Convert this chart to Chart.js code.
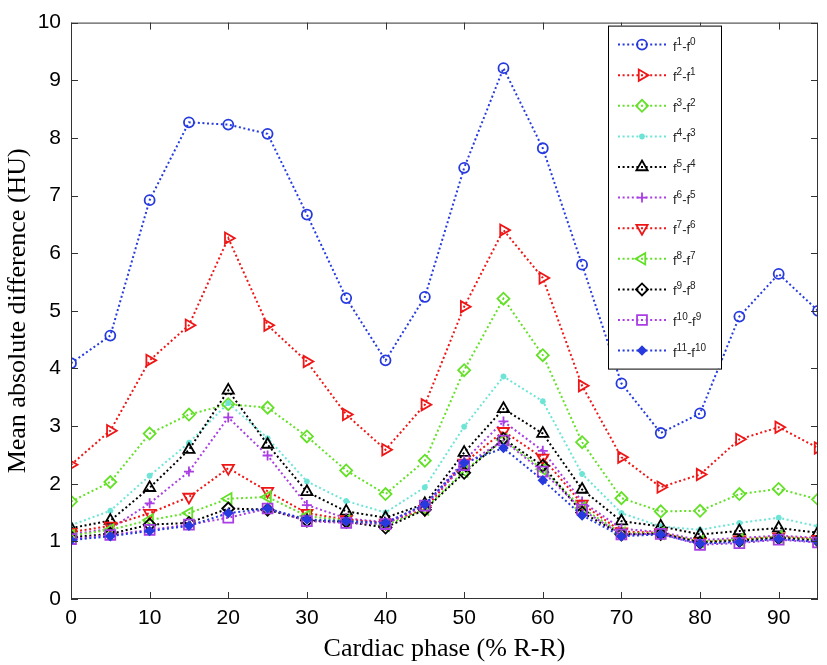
<!DOCTYPE html>
<html>
<head>
<meta charset="utf-8">
<script src="https://cdn.jsdelivr.net/npm/chart.js@4.4.1/dist/chart.umd.min.js"></script>
<style>
html,body{margin:0;padding:0;background:#fff;}
#wrap{width:827px;height:665px;}
</style>
</head>
<body>
<div id="wrap"><canvas id="c" width="827" height="665"></canvas></div>
<script>
// ---- data ----
const phases = [0,5,10,15,20,25,30,35,40,45,50,55,60,65,70,75,80,85,90,95];
const xTickValues = [0,10,20,30,40,50,60,70,80,90];
const yTickValues = [0,1,2,3,4,5,6,7,8,9,10];
const seriesLabels = ['f¹-f⁰','f²-f¹','f³-f²','f⁴-f³','f⁵-f⁴','f⁶-f⁵','f⁷-f⁶','f⁸-f⁷','f⁹-f⁸','f¹⁰-f⁹','f¹¹-f¹⁰'];

const f1_f0   = [4.09,4.57,6.92,8.27,8.23,8.07,6.67,5.22,4.14,5.24,7.48,9.21,7.82,5.80,3.74,2.88,3.22,4.90,5.64,5.00];
const f2_f1   = [2.33,2.92,4.14,4.75,6.26,4.75,4.12,3.20,2.59,3.37,5.07,6.40,5.57,3.70,2.46,1.94,2.16,2.77,2.98,2.62];
const f3_f2   = [1.69,2.03,2.87,3.20,3.38,3.32,2.82,2.23,1.82,2.40,3.97,5.21,4.23,2.72,1.75,1.52,1.53,1.82,1.91,1.73];
const f4_f3   = [1.28,1.53,2.14,2.71,3.40,2.79,2.04,1.70,1.50,1.94,2.99,3.86,3.43,2.17,1.49,1.26,1.20,1.32,1.41,1.26];
const f5_f4   = [1.23,1.36,1.93,2.59,3.62,2.68,1.86,1.52,1.41,1.65,2.54,3.30,2.87,1.90,1.35,1.26,1.12,1.18,1.23,1.15];
const f6_f5   = [1.12,1.22,1.66,2.21,3.15,2.49,1.63,1.40,1.33,1.62,2.40,3.08,2.57,1.69,1.22,1.16,1.02,1.06,1.10,1.06];
const f7_f6   = [1.16,1.27,1.49,1.77,2.27,1.87,1.49,1.38,1.32,1.56,2.36,2.91,2.45,1.65,1.17,1.15,0.99,1.03,1.08,1.04];
const f8_f7   = [1.10,1.20,1.37,1.49,1.74,1.77,1.44,1.36,1.28,1.56,2.22,2.76,2.25,1.58,1.14,1.14,1.00,1.03,1.08,1.03];
const f9_f8   = [1.07,1.13,1.29,1.32,1.57,1.55,1.36,1.34,1.24,1.55,2.19,2.78,2.31,1.50,1.12,1.13,0.98,1.01,1.06,1.01];
const f10_f9  = [1.04,1.11,1.20,1.29,1.41,1.57,1.35,1.32,1.30,1.62,2.32,2.75,2.21,1.55,1.12,1.13,0.94,0.97,1.03,0.98];
const f11_f10 = [1.02,1.09,1.18,1.27,1.49,1.57,1.38,1.35,1.32,1.64,2.36,2.62,2.06,1.45,1.09,1.12,0.96,0.99,1.04,0.99];

const seriesValues = [f1_f0,f2_f1,f3_f2,f4_f3,f5_f4,f6_f5,f7_f6,f8_f7,f9_f8,f10_f9,f11_f10];

// ---- styles ----
const BLUE='rgb(38,58,222)', RED='rgb(238,22,22)', GREEN='rgb(100,224,40)', CYAN='rgb(110,228,215)', BLACK='rgb(0,0,0)', PURPLE='rgb(168,62,228)';
const styles = [
  {c:BLUE,   ps:'circle',   r:5,   rot:0,   fill:false},
  {c:RED,    ps:'triangle', r:6.5, rot:90,  fill:false},
  {c:GREEN,  ps:'rectRot',  r:6,   rot:0,   fill:false},
  {c:CYAN,   ps:'star',     r:3,   rot:0,   fill:false},
  {c:BLACK,  ps:'triangle', r:6.5, rot:0,   fill:false},
  {c:PURPLE, ps:'cross',    r:5,   rot:0,   fill:false},
  {c:RED,    ps:'triangle', r:6.5, rot:180, fill:false},
  {c:GREEN,  ps:'triangle', r:6.5, rot:270, fill:false},
  {c:BLACK,  ps:'rectRot',  r:6,   rot:0,   fill:false},
  {c:PURPLE, ps:'rect',     r:7,   rot:0,   fill:false},
  {c:BLUE,   ps:'rectRot',  r:4,   rot:0,   fill:true}
];
const DASH=[2,2.6];

const datasets = seriesValues.map((vals,i)=>({
  label: seriesLabels[i],
  data: vals.map((v,j)=>({x:phases[j], y:v})),
  borderColor: styles[i].c,
  backgroundColor: styles[i].fill ? styles[i].c : 'rgba(0,0,0,0)',
  borderWidth: 2,
  borderDash: DASH,
  pointStyle: styles[i].ps,
  pointRadius: styles[i].r,
  pointRotation: styles[i].rot,
  pointBorderWidth: 1.8,
  pointBorderColor: styles[i].c,
  pointBackgroundColor: styles[i].fill ? styles[i].c : 'rgba(0,0,0,0)',
  tension: 0,
  fill: false,
  order: -i
}));

const SANS = "'Liberation Sans', Arial, Helvetica, sans-serif";
const SERIF = "'Liberation Serif', 'Times New Roman', serif";
const SUP = '⁰¹²³⁴⁵⁶⁷⁸⁹';

function drawSupLabel(ctx, text, x, y){
  // split into normal / superscript runs
  const runs=[]; 
  for(const ch of text){
    const k=SUP.indexOf(ch);
    const sup=k>=0; const c= sup? String(k): ch;
    if(runs.length && runs[runs.length-1].sup===sup) runs[runs.length-1].t+=c;
    else runs.push({sup, t:c});
  }
  let cx=x;
  ctx.textBaseline='alphabetic'; ctx.textAlign='left';
  runs.forEach(r=>{
    ctx.font=(r.sup? "10px ":"13px ")+SANS;
    ctx.fillText(r.t, cx, r.sup? y-6 : y);
    cx+=ctx.measureText(r.t).width;
  });
}

// frame + inward ticks + legend
const decor = {
  id:'decor',
  afterDatasetsDraw(chart){
    const {ctx, chartArea:a, scales:{x,y}} = chart;
    ctx.save();
    ctx.strokeStyle='#333';
    ctx.lineWidth=1;
    ctx.setLineDash([]);
    ctx.strokeRect(a.left+0.5, a.top+0.5, a.right-a.left-1, a.bottom-a.top-1);
    const TL=7;
    ctx.beginPath();
    xTickValues.forEach(v=>{
      const px=Math.round(x.getPixelForValue(v))+0.5;
      ctx.moveTo(px,a.bottom); ctx.lineTo(px,a.bottom-TL);
      ctx.moveTo(px,a.top); ctx.lineTo(px,a.top+TL);
    });
    yTickValues.forEach(v=>{
      const py=Math.round(y.getPixelForValue(v))+0.5;
      ctx.moveTo(a.left,py); ctx.lineTo(a.left+TL,py);
      ctx.moveTo(a.right,py); ctx.lineTo(a.right-TL,py);
    });
    ctx.stroke();
    ctx.restore();
  },
  afterDraw(chart){
    const {ctx, chartArea:a} = chart;
    const L = a.right-210, T = a.top+3, W = 113, H = 343;
    ctx.save();
    ctx.fillStyle='#fff';
    ctx.fillRect(L,T,W,H);
    ctx.strokeStyle='#000'; ctx.lineWidth=1; ctx.setLineDash([]);
    ctx.strokeRect(L+0.5,T+0.5,W,H);
    chart.data.datasets.forEach((ds,i)=>{
      const yy = T + 19 + i*30.6;
      ctx.save();
      ctx.strokeStyle=ds.borderColor; ctx.lineWidth=2; ctx.setLineDash(DASH);
      ctx.beginPath(); ctx.moveTo(L+10,yy); ctx.lineTo(L+58,yy); ctx.stroke();
      ctx.setLineDash([]);
      ctx.fillStyle=ds.pointBackgroundColor; ctx.strokeStyle=ds.pointBorderColor; ctx.lineWidth=1.8;
      Chart.helpers.drawPoint(ctx,{pointStyle:ds.pointStyle, rotation:ds.pointRotation, radius:ds.pointRadius, borderWidth:1.8}, L+34, yy);
      ctx.restore();
      ctx.fillStyle='#222';
      drawSupLabel(ctx, ds.label, L+65, yy+6);
    });
    ctx.restore();
  }
};

new Chart(document.getElementById('c'), {
  type:'line',
  data:{datasets},
  plugins:[decor],
  options:{
    responsive:false, animation:false, devicePixelRatio:1,
    layout:{padding:{top:12,right:9,left:0,bottom:0}},
    plugins:{legend:{display:false}, tooltip:{enabled:false}},
    scales:{
      x:{
        type:'linear', min:0, max:95,
        afterBuildTicks:s=>{ s.ticks = xTickValues.map(v=>({value:v})); },
        grid:{display:false, drawTicks:false}, border:{display:false},
        ticks:{font:{family:SANS,size:21}, color:'#000', padding:7, maxRotation:0},
        title:{display:true, text:'Cardiac phase (% R-R)', font:{family:SERIF,size:26}, color:'#000', padding:{top:0,bottom:0}},
        afterFit:s=>{ s.height=66; }
      },
      y:{
        type:'linear', min:0, max:10,
        afterBuildTicks:s=>{ s.ticks = yTickValues.map(v=>({value:v})); },
        grid:{display:false, drawTicks:false}, border:{display:false},
        ticks:{font:{family:SANS,size:21}, color:'#000', padding:10},
        title:{display:true, text:'Mean absolute difference (HU)', font:{family:SERIF,size:26}, color:'#000', padding:{top:3,bottom:0}},
        afterFit:s=>{ s.width=71; }
      }
    }
  }
});
</script>
</body>
</html>
